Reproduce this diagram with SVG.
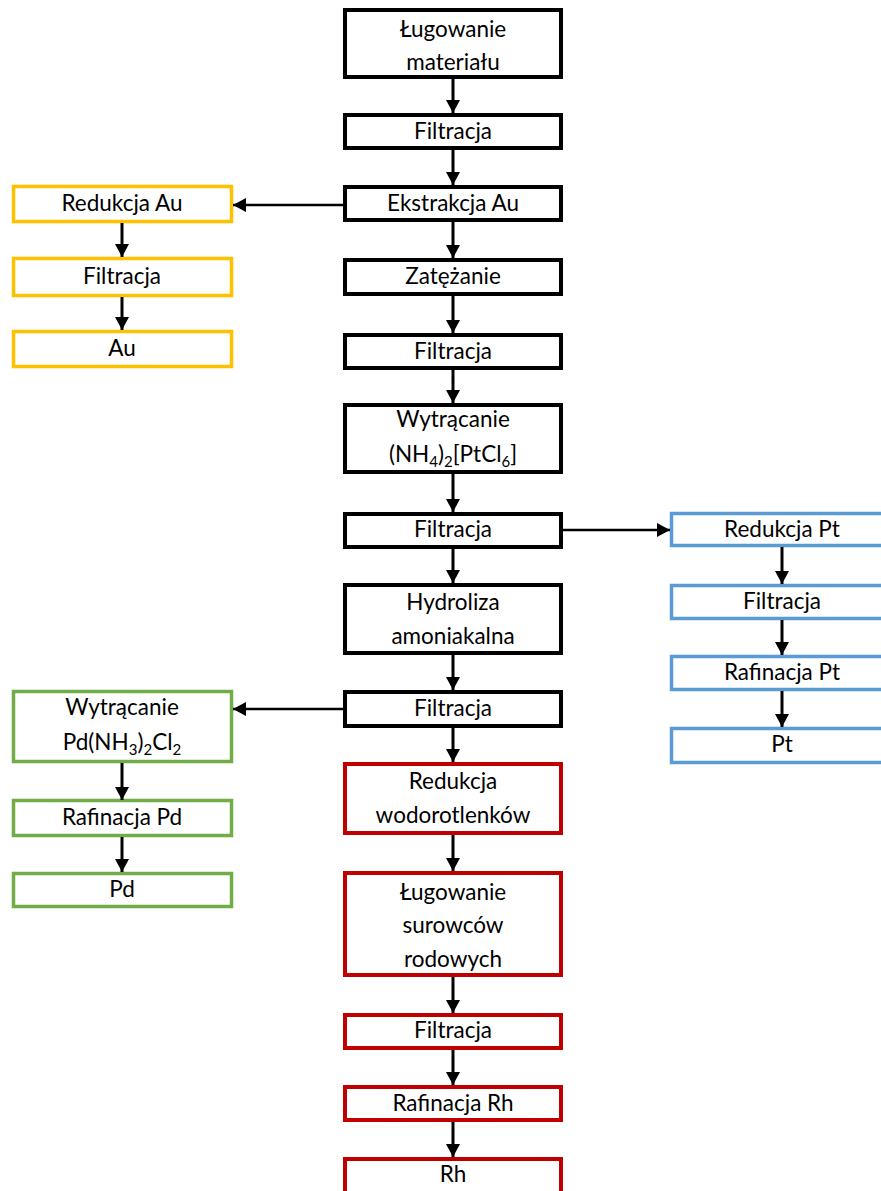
<svg xmlns="http://www.w3.org/2000/svg" width="881" height="1191" viewBox="0 0 881 1191">
<defs>
<marker id="ah" markerUnits="userSpaceOnUse" markerWidth="14" markerHeight="14" refX="13" refY="7" orient="auto">
<path d="M0,0 L13,7 L0,14 z" fill="#000"/>
</marker>
<style>
rect{fill:#fff}
.k{stroke:#000;stroke-width:4}
.y{stroke:#FFC000;stroke-width:3.5}
.b{stroke:#5B9BD5;stroke-width:3.5}
.g{stroke:#70AD47;stroke-width:3.5}
.r{stroke:#C00000;stroke-width:4}
text{font-family:Lato,"Liberation Sans",sans-serif;font-size:22.5px;fill:#000;text-anchor:middle}
.s{font-size:15px}
#conn line{stroke:#000;stroke-width:3;marker-end:url(#ah)}
#conn line.h{stroke-width:2.5}
</style>
</defs>
<rect width="881" height="1191" fill="#fff"/>
<g id="n1"><rect class="k" x="345" y="10" width="216" height="67"/><text x="453" y="37">Ługowanie</text><text x="453" y="70">materiału</text></g>
<g id="n2"><rect class="k" x="345" y="115" width="216" height="33"/><text x="453" y="139">Filtracja</text></g>
<g id="n3"><rect class="k" x="345" y="187" width="216" height="33"/><text x="453" y="211">Ekstrakcja Au</text></g>
<g id="n4"><rect class="k" x="345" y="260" width="216" height="34"/><text x="453" y="284">Zatężanie</text></g>
<g id="n5"><rect class="k" x="345" y="335" width="216" height="33"/><text x="453" y="359">Filtracja</text></g>
<g id="n6"><rect class="k" x="345" y="405" width="216" height="67"/><text x="453" y="427">Wytrącanie</text><text x="453" y="462">(NH<tspan class="s" dy="5">4</tspan><tspan dy="-5">)</tspan><tspan class="s" dy="5">2</tspan><tspan dy="-5">[PtCl</tspan><tspan class="s" dy="5">6</tspan><tspan dy="-5">]</tspan></text></g>
<g id="n7"><rect class="k" x="345" y="514" width="216" height="33"/><text x="453" y="537">Filtracja</text></g>
<g id="n8"><rect class="k" x="345" y="585" width="216" height="68"/><text x="453" y="610">Hydroliza</text><text x="453" y="644">amoniakalna</text></g>
<g id="n9"><rect class="k" x="345" y="692" width="216" height="34"/><text x="453" y="716">Filtracja</text></g>
<g id="n10"><rect class="r" x="345" y="764" width="216" height="69"/><text x="453" y="789">Redukcja</text><text x="453" y="823">wodorotlenków</text></g>
<g id="n11"><rect class="r" x="345" y="873" width="216" height="102"/><text x="453" y="900">Ługowanie</text><text x="453" y="933">surowców</text><text x="453" y="967">rodowych</text></g>
<g id="n12"><rect class="r" x="345" y="1015" width="216" height="33"/><text x="453" y="1038">Filtracja</text></g>
<g id="n13"><rect class="r" x="345" y="1087" width="216" height="33"/><text x="453" y="1111">Rafinacja Rh</text></g>
<g id="n14"><rect class="r" x="345" y="1159" width="216" height="60"/><text x="453" y="1182">Rh</text></g>
<g id="y1"><rect class="y" x="13.5" y="186.5" width="218" height="35"/><text x="122" y="211">Redukcja Au</text></g>
<g id="y2"><rect class="y" x="13.5" y="258.5" width="218" height="37"/><text x="122" y="284">Filtracja</text></g>
<g id="y3"><rect class="y" x="13.5" y="331.5" width="218" height="35"/><text x="122" y="356">Au</text></g>
<g id="b1"><rect class="b" x="671.5" y="513.5" width="222" height="32"/><text x="782" y="537">Redukcja Pt</text></g>
<g id="b2"><rect class="b" x="671.5" y="585.5" width="222" height="33"/><text x="782" y="609">Filtracja</text></g>
<g id="b3"><rect class="b" x="671.5" y="656.5" width="222" height="33"/><text x="782" y="680">Rafinacja Pt</text></g>
<g id="b4"><rect class="b" x="671.5" y="728.5" width="222" height="34"/><text x="782" y="752">Pt</text></g>
<g id="g1"><rect class="g" x="13.5" y="691.5" width="218" height="70"/><text x="122" y="715">Wytrącanie</text><text x="122" y="750">Pd(NH<tspan class="s" dy="5">3</tspan><tspan dy="-5">)</tspan><tspan class="s" dy="5">2</tspan><tspan dy="-5">Cl</tspan><tspan class="s" dy="5">2</tspan></text></g>
<g id="g2"><rect class="g" x="13.5" y="800.5" width="218" height="35"/><text x="122" y="825">Rafinacja Pd</text></g>
<g id="g3"><rect class="g" x="13.5" y="873.5" width="218" height="33"/><text x="122" y="897">Pd</text></g>
<g id="conn">
<line x1="453" y1="79" x2="453" y2="113"/>
<line x1="453" y1="150" x2="453" y2="185"/>
<line x1="453" y1="222" x2="453" y2="258"/>
<line x1="453" y1="296" x2="453" y2="333"/>
<line x1="453" y1="370" x2="453" y2="403"/>
<line x1="453" y1="474" x2="453" y2="512"/>
<line x1="453" y1="549" x2="453" y2="583"/>
<line x1="453" y1="655" x2="453" y2="690"/>
<line x1="453" y1="728" x2="453" y2="762"/>
<line x1="453" y1="835" x2="453" y2="871"/>
<line x1="453" y1="977" x2="453" y2="1013"/>
<line x1="453" y1="1050" x2="453" y2="1085"/>
<line x1="453" y1="1122" x2="453" y2="1157"/>
<line class="h" x1="343" y1="205" x2="233" y2="205"/>
<line x1="122" y1="223" x2="122" y2="257"/>
<line x1="122" y1="297" x2="122" y2="330"/>
<line class="h" x1="563" y1="530" x2="670" y2="530"/>
<line x1="782" y1="547" x2="782" y2="584"/>
<line x1="782" y1="620" x2="782" y2="655"/>
<line x1="782" y1="691" x2="782" y2="727"/>
<line class="h" x1="343" y1="709" x2="233" y2="709"/>
<line x1="122" y1="763" x2="122" y2="800"/>
<line x1="122" y1="837" x2="122" y2="872"/>
</g>
</svg>
